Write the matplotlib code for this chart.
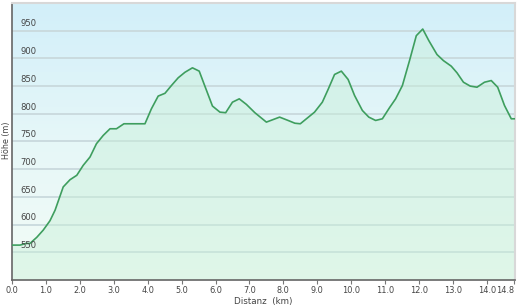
import numpy as np
import matplotlib
matplotlib.use("Agg")
import matplotlib.pyplot as plt
from matplotlib.colors import LinearSegmentedColormap

dist_km = [0.00, 0.24, 0.41, 0.53, 0.73, 0.92, 1.12, 1.27, 1.51, 1.71, 1.91, 2.10,
           2.30, 2.49, 2.69, 2.89, 3.08, 3.30, 3.57, 3.92, 4.11, 4.31, 4.51, 4.70,
           4.90, 5.10, 5.32, 5.52, 5.68, 5.91, 6.13, 6.30, 6.50, 6.70, 6.91, 7.16,
           7.50, 7.89, 8.14, 8.34, 8.50, 8.68, 8.92, 9.15, 9.32, 9.51, 9.71, 9.91,
           10.10, 10.33, 10.52, 10.72, 10.92, 11.13, 11.31, 11.51, 11.72, 11.92,
           12.11, 12.29, 12.53, 12.72, 12.95, 13.12, 13.31, 13.51, 13.71, 13.93,
           14.13, 14.32, 14.52, 14.72, 14.83]
height_m = [563, 563, 566, 566, 577, 590, 607, 626, 668, 681, 689, 707,
            722, 746, 761, 773, 773, 782, 782, 782, 809, 832, 837, 851,
            865, 875, 883, 877, 851, 814, 803, 802, 821, 827, 817, 802,
            785, 794, 788, 783, 782, 791, 803, 821, 844, 871, 877, 862,
            833, 806, 794, 788, 791, 811, 827, 851, 896, 941,
            953, 932, 907, 896, 886, 874, 857, 850, 848, 857,
            860, 848, 815, 791, 791]

x_ticks = [0, 1, 2, 3, 4, 5, 6, 7, 8, 9, 10, 11, 12, 13, 14, 14.8]
x_tick_labels = ["0.0", "1.0", "2.0", "3.0", "4.0", "5.0", "6.0", "7.0", "8.0",
                 "9.0", "10.0", "11.0", "12.0", "13.0", "14.0", "14.8"]
y_ticks = [550, 600, 650, 700, 750, 800, 850, 900, 950]
x_label = "Distanz  (km)"
y_label = "Höhe (m)"

fig = plt.figure(figsize=(5.2, 3.07), dpi=100)
ax = fig.add_axes([12/520, 1-280/307, 503/520, 277/307])
xmin, xmax, ymin, ymax = 0, 14.83, 500, 1000
ax.set_xlim(xmin, xmax)
ax.set_ylim(ymin, ymax)

# background gradient
bg = LinearSegmentedColormap.from_list("bg", ["#f3fcf6", "#e6f7f8", "#d2effa"])
grad = np.linspace(0, 1, 256).reshape(-1, 1)
ax.imshow(grad, cmap=bg, origin="lower", aspect="auto",
          extent=[xmin, xmax, ymin, ymax], zorder=0)

for yt in y_ticks:
    ax.axhline(yt, color="#c9d9dd", lw=1.3, zorder=1)

ax.fill_between(dist_km, height_m, ymin, color="#c8f0d8", alpha=0.45, zorder=2, lw=0)
ax.plot(dist_km, height_m, color="#3e9e5e", lw=1.2, zorder=3)

ax.set_xticks(x_ticks)
ax.set_xticklabels(x_tick_labels)
ax.tick_params(axis="x", length=3, width=0.8, color="#777777", labelsize=5.9,
               labelcolor="#444444", pad=1.5)
ax.get_xticklabels()[-1].set_horizontalalignment("right")
ax.set_yticks(y_ticks)
ax.tick_params(axis="y", length=0, labelleft=False)
for yt in y_ticks:
    ax.text(0.25, yt + 4, str(yt), fontsize=6.1, color="#444444",
            ha="left", va="bottom", zorder=4)

for side in ["top", "right"]:
    ax.spines[side].set_color("#d8d8d8")
    ax.spines[side].set_linewidth(1.5)
ax.spines["left"].set_color("#666666")
ax.spines["bottom"].set_color("#666666")
ax.spines["left"].set_linewidth(1.2)
ax.spines["bottom"].set_linewidth(1.2)

ax.set_xlabel(x_label, fontsize=6.3, color="#444444", labelpad=1.5)
fig.text(6/520, 1-140/307, y_label, rotation=90, fontsize=5.8, color="#444444",
         ha="center", va="center")

fig.savefig("out.png", dpi=100)
